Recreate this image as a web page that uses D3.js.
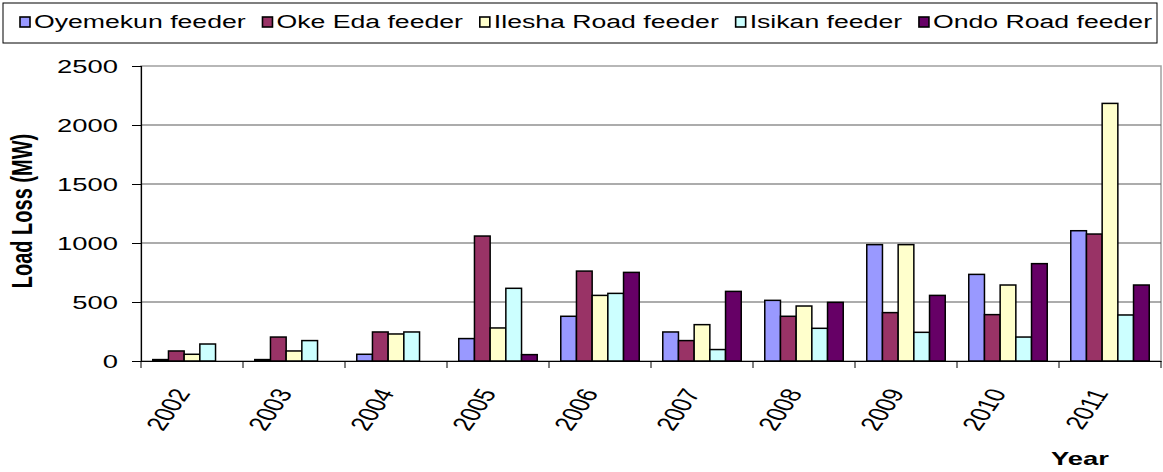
<!DOCTYPE html>
<html>
<head>
<meta charset="utf-8">
<script src="https://cdn.jsdelivr.net/npm/d3@7"></script>
<style>
  body { margin: 0; background: #fff; }
  svg { font-family: "Liberation Sans", Arial, sans-serif; }
</style>
</head>
<body>
<svg width="1163" height="472"></svg>
<script>
// donnees
const years = ['2002', '2003', '2004', '2005', '2006', '2007', '2008', '2009', '2010', '2011'];
const feeders = ['Oyemekun feeder', 'Oke Eda feeder', 'Ilesha Road feeder', 'Isikan feeder', 'Ondo Road feeder'];
const oyemekun = [12, 12, 57, 190, 379, 246, 514, 986, 734, 1104];
const okeEda = [85, 203, 246, 1059, 762, 173, 379, 410, 393, 1076];
const ileshaRoad = [57, 85, 229, 280, 556, 308, 466, 986, 644, 2183];
const isikan = [144, 173, 246, 616, 573, 97, 277, 243, 203, 390];
const ondoRoad = [0, 0, 0, 54, 751, 590, 497, 556, 825, 644];
const yTicks = [0, 500, 1000, 1500, 2000, 2500];
const colors = ['#9999FF', '#993366', '#FFFFCC', '#CCFFFF', '#660066'];

const series = [oyemekun, okeEda, ileshaRoad, isikan, ondoRoad];

// le texte de l'image d'origine est etire horizontalement
const SX = 1.48;
const FS = 18.5;

const svg = d3.select('svg');
const margin = { top: 66, right: 2, bottom: 111, left: 141 };
const innerWidth = 1163 - margin.left - margin.right;
const innerHeight = 472 - margin.top - margin.bottom;

const g = svg.append('g')
  .attr('transform', `translate(${margin.left},${margin.top})`);

// echelles
const x = d3.scaleBand().domain(years).range([0, innerWidth]);
const bw = x.bandwidth() / 6.5;
const x1 = d3.scaleBand().domain(d3.range(5)).range([bw * 0.75, x.bandwidth() - bw * 0.75]);
const y = d3.scaleLinear().domain([0, 2500]).range([innerHeight, 0]);

// cadre et grille
g.append('rect')
  .attr('width', innerWidth).attr('height', innerHeight)
  .attr('fill', 'none').attr('stroke', '#a0a0a0').attr('stroke-width', 1.5);

g.selectAll('.grid').data(yTicks.filter(d => d > 0 && d < 2500)).join('line')
  .attr('x1', 0).attr('x2', innerWidth)
  .attr('y1', d => y(d)).attr('y2', d => y(d))
  .attr('stroke', '#5a5a5a').attr('stroke-width', 1.2);

// barres
const rows = [];
years.forEach((yr, i) => series.forEach((s, k) => rows.push({ yr, k, v: s[i] })));
g.selectAll('.bar').data(rows).join('rect')
  .attr('x', d => x(d.yr) + x1(d.k))
  .attr('y', d => y(d.v))
  .attr('width', x1.bandwidth())
  .attr('height', d => innerHeight - y(d.v))
  .attr('fill', d => colors[d.k])
  .attr('stroke', '#000').attr('stroke-width', 1.5);

// axe Y
const yAxis = g.append('g').call(d3.axisLeft(y).tickValues(yTicks).tickSize(9).tickFormat(''));
yAxis.select('.domain').attr('stroke', '#000').attr('stroke-width', 1.2);
yAxis.selectAll('.tick line').attr('stroke', '#000');

g.selectAll('.ylabel').data(yTicks).join('text')
  .attr('transform', d => `translate(-23,${y(d)}) scale(${SX},1)`)
  .attr('text-anchor', 'end')
  .attr('dy', '0.36em')
  .attr('font-size', FS)
  .text(d => d);

// axe X
const xAxis = g.append('g')
  .attr('transform', `translate(0,${innerHeight})`)
  .call(d3.axisBottom(x).tickSize(0).tickFormat(''));
xAxis.select('.domain').attr('stroke', '#000').attr('stroke-width', 1.2);

g.selectAll('.xtick').data(d3.range(years.length + 1)).join('line')
  .attr('x1', i => i * x.bandwidth()).attr('x2', i => i * x.bandwidth())
  .attr('y1', innerHeight).attr('y2', innerHeight + 7)
  .attr('stroke', '#000');

g.selectAll('.xlabel').data(years).join('text')
  .attr('transform', d => `translate(${x(d) + x.bandwidth() / 2 - 10},${innerHeight + 29}) scale(${SX},1) rotate(-64)`)
  .attr('text-anchor', 'end')
  .attr('dy', '0.35em')
  .attr('font-size', 19.5)
  .text(d => d);

// titres des axes
svg.append('text')
  .attr('transform', `translate(32,211) scale(${SX},1) rotate(-90)`)
  .attr('text-anchor', 'middle')
  .attr('font-size', 20).attr('font-weight', 'bold')
  .text('Load Loss (MW)');

svg.append('text')
  .attr('transform', `translate(1080,465) scale(${SX},1)`)
  .attr('text-anchor', 'middle')
  .attr('font-size', FS).attr('font-weight', 'bold')
  .text('Year');

// legende
const legend = svg.append('g');
legend.append('rect')
  .attr('x', 3).attr('y', 3).attr('width', 1154).attr('height', 40)
  .attr('fill', '#fff').attr('stroke', '#000').attr('stroke-width', 1);

const items = legend.selectAll('.item').data(feeders).join('g');
items.append('rect')
  .attr('width', 10).attr('height', 10)
  .attr('fill', (d, k) => colors[k]).attr('stroke', '#000').attr('stroke-width', 1.6);
items.append('text')
  .attr('transform', `translate(14,10.5) scale(${SX},1)`)
  .attr('font-size', 18)
  .text(d => d);

// repartir les items entre x=20 et la fin du texte a x=1152
const widths = items.select('text').nodes().map(n => n.getComputedTextLength() * SX + 14);
const gap = (1152 - 20 - d3.sum(widths)) / (feeders.length - 1);
let lx = 20;
items.attr('transform', (d, k) => {
  const t = `translate(${lx},17)`;
  lx += widths[k] + gap;
  return t;
});
</script>
</body>
</html>
